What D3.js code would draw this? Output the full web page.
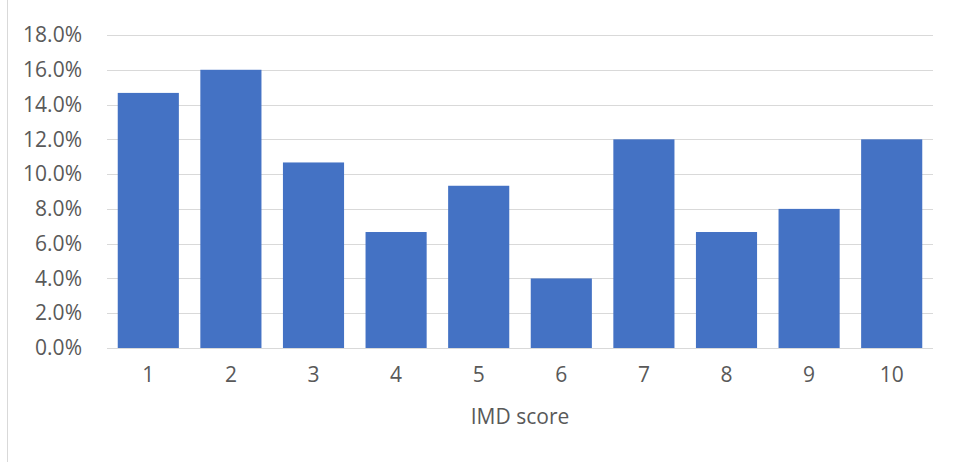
<!DOCTYPE html>
<html>
<head>
<meta charset="utf-8">
<script src="https://cdn.jsdelivr.net/npm/d3@7"></script>
<style>
  html, body { margin: 0; padding: 0; background: #fff; }
  svg { display: block; }
  text { font-family: "Open Sans", "Noto Sans", sans-serif; fill: #595959; }
</style>
</head>
<body>
<svg id="chart" width="953" height="462"></svg>
<script>
// IMD score deciles and the share of records in each
const categories = ["1", "2", "3", "4", "5", "6", "7", "8", "9", "10"];
const shares = [0.1467, 0.16, 0.1067, 0.0667, 0.0933, 0.04, 0.12, 0.0667, 0.08, 0.12];
const yTicks = [0, 0.02, 0.04, 0.06, 0.08, 0.10, 0.12, 0.14, 0.16, 0.18];
const xTitle = "IMD score";

const svg = d3.select("#chart");
const margin = { left: 107, right: 20, top: 35, bottom: 114 };
const W = 953, H = 462;
const fontSize = "21px";

// outer frame line at the left edge
svg.append("line")
  .attr("x1", 7.5).attr("x2", 7.5).attr("y1", 0).attr("y2", H)
  .attr("stroke", "#d9d9d9").attr("stroke-width", 1);

const x = d3.scaleBand()
  .domain(categories)
  .range([margin.left, W - margin.right])
  .paddingInner(0.26)
  .paddingOuter(0.13);

const y = d3.scaleLinear()
  .domain([0, 0.18])
  .range([H - margin.bottom, margin.top]);

// horizontal gridlines
svg.append("g")
  .selectAll("line")
  .data(yTicks)
  .join("line")
  .attr("x1", margin.left).attr("x2", W - margin.right)
  .attr("y1", d => Math.round(y(d)) + 0.5).attr("y2", d => Math.round(y(d)) + 0.5)
  .attr("stroke", "#d9d9d9").attr("stroke-width", 1);

// y axis labels
const yAxis = d3.axisLeft(y).tickValues(yTicks).tickFormat(d3.format(".1%")).tickSize(0).tickPadding(25);
const gy = svg.append("g").attr("transform", `translate(${margin.left},0)`).call(yAxis);
gy.select(".domain").remove();
gy.selectAll("text").style("font-size", fontSize).attr("fill", "#595959");

// bars
svg.append("g")
  .selectAll("rect")
  .data(shares)
  .join("rect")
  .attr("x", (d, i) => x(categories[i]))
  .attr("width", x.bandwidth())
  .attr("y", d => y(d))
  .attr("height", d => y(0) - y(d))
  .attr("fill", "#4472C4");

// x axis labels
const xAxis = d3.axisBottom(x).tickSize(0).tickPadding(19);
const gx = svg.append("g").attr("transform", `translate(0,${y(0)})`).call(xAxis);
gx.select(".domain").remove();
gx.selectAll("text").style("font-size", fontSize).attr("fill", "#595959");

// axis title
svg.append("text")
  .attr("x", (margin.left + W - margin.right) / 2)
  .attr("y", 424)
  .attr("text-anchor", "middle")
  .style("font-size", fontSize)
  .text(xTitle);

// d3 axes set their own font-family on the group; use the page font instead
svg.selectAll("g").attr("font-family", null).attr("font-size", null);
</script>
</body>
</html>
